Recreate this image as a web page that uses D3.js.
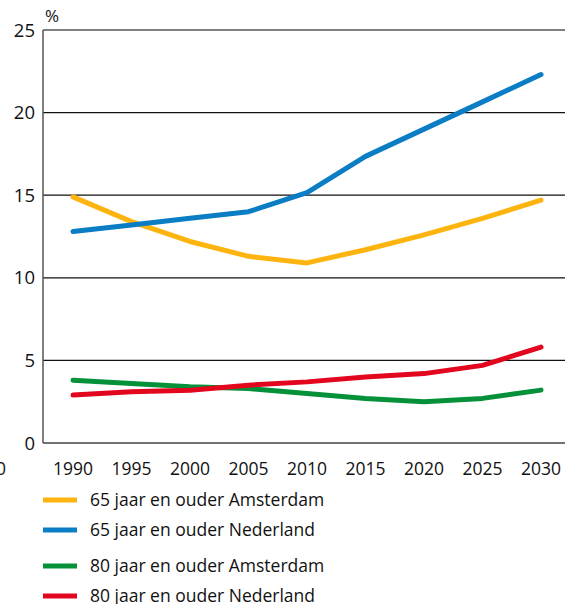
<!DOCTYPE html>
<html>
<head>
<meta charset="utf-8">
<script src="https://cdn.jsdelivr.net/npm/d3@7"></script>
<style>
  body { margin: 0; background: #fff; }
  svg { font-family: "Open Sans", Lato, sans-serif; }
</style>
</head>
<body>
<div id="chart"></div>
<script>
// data
const years = [1990, 1995, 2000, 2005, 2010, 2015, 2020, 2025, 2030];
const ams65 = [14.9, 13.4, 12.2, 11.3, 10.9, 11.7, 12.6, 13.6, 14.7];
const nl65 = [12.8, 13.2, 13.6, 14.0, 15.15, 17.35, 19.0, 20.65, 22.3];
const ams80 = [3.8, 3.6, 3.4, 3.3, 3.0, 2.7, 2.5, 2.7, 3.2];
const nl80 = [2.9, 3.1, 3.2, 3.5, 3.7, 4.0, 4.2, 4.7, 5.8];
const yTicks = [0, 5, 10, 15, 20, 25];

const series = [
  {name: "65 jaar en ouder Amsterdam", values: ams65, color: "#fdb40f"},
  {name: "65 jaar en ouder Nederland", values: nl65, color: "#0a7dc4"},
  {name: "80 jaar en ouder Amsterdam", values: ams80, color: "#05913a"},
  {name: "80 jaar en ouder Nederland", values: nl80, color: "#e2071f"}
];

const W = 565, H = 604;
const svg = d3.select("#chart").append("svg")
  .attr("width", W).attr("height", H);

const x = d3.scaleLinear().domain([1990, 2030]).range([73, 541]);
const y = d3.scaleLinear().domain([0, 25]).range([443, 30]);

// gridlines
svg.append("g").selectAll("line")
  .data(yTicks.filter(d => d > 0 && d < 25))
  .join("line")
  .attr("x1", 43).attr("x2", W)
  .attr("y1", d => y(d)).attr("y2", d => y(d))
  .attr("stroke", "#111").attr("stroke-width", 1.2);

// top & bottom & left frame
svg.append("line").attr("x1", 43).attr("x2", W).attr("y1", y(25)).attr("y2", y(25))
  .attr("stroke", "#555").attr("stroke-width", 1.5);
svg.append("line").attr("x1", 43).attr("x2", W).attr("y1", y(0)).attr("y2", y(0))
  .attr("stroke", "#444").attr("stroke-width", 1.5);
svg.append("line").attr("x1", 43).attr("x2", 43).attr("y1", y(25)).attr("y2", y(0))
  .attr("stroke", "#555").attr("stroke-width", 1.5);

// y labels
svg.append("g").selectAll("text")
  .data(yTicks)
  .join("text")
  .attr("x", 35).attr("y", d => y(d) + 6.5)
  .attr("text-anchor", "end")
  .attr("font-size", 18.5).attr("fill", "#111")
  .text(d => d);

svg.append("text").attr("x", 45).attr("y", 22)
  .attr("font-size", 17).attr("fill", "#111").text("%");

// x labels
svg.append("g").selectAll("text")
  .data(years)
  .join("text")
  .attr("x", d => x(d)).attr("y", 475)
  .attr("text-anchor", "middle")
  .attr("font-size", 17.5).attr("fill", "#111")
  .text(d => d);

// clipped label at left edge
svg.append("text").attr("x", 6).attr("y", 475)
  .attr("text-anchor", "end")
  .attr("font-size", 17.5).attr("fill", "#111").text("0");

// lines
const line = d3.line()
  .x((d, i) => x(years[i]))
  .y(d => y(d));

svg.append("g").selectAll("path")
  .data(series)
  .join("path")
  .attr("d", d => line(d.values))
  .attr("fill", "none")
  .attr("stroke", d => d.color)
  .attr("stroke-width", 5)
  .attr("stroke-linecap", "round")
  .attr("stroke-linejoin", "round");

// legend
const legY = [500, 530, 566, 596];
const leg = svg.append("g").selectAll("g")
  .data(series)
  .join("g")
  .attr("transform", (d, i) => `translate(0, ${legY[i]})`);

leg.append("line")
  .attr("x1", 43).attr("x2", 77)
  .attr("y1", 0).attr("y2", 0)
  .attr("stroke", d => d.color).attr("stroke-width", 5);

leg.append("text")
  .attr("x", 90).attr("y", 6)
  .attr("font-size", 17.5).attr("fill", "#111")
  .text(d => d.name);
</script>
</body>
</html>
